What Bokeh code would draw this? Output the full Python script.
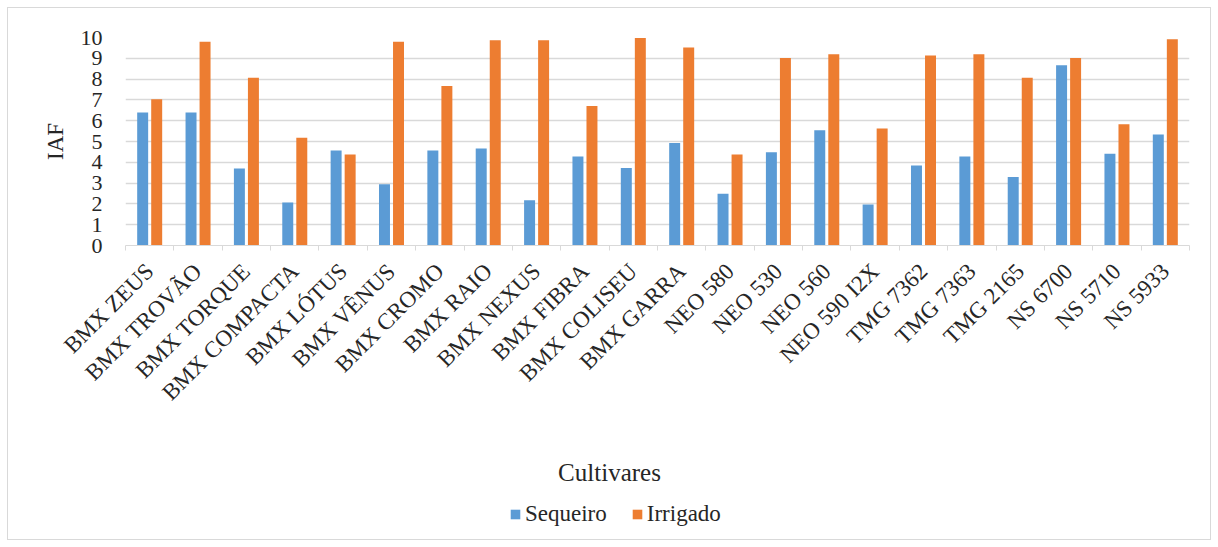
import math
from bokeh.plotting import figure
from bokeh.layouts import column
from bokeh.models import (Range1d, FixedTicker, Legend, LegendItem, Label,
                          ColumnDataSource)
from bokeh.embed import file_html
from bokeh.resources import INLINE

cultivares = ["BMX ZEUS", "BMX TROVÃO", "BMX TORQUE", "BMX COMPACTA", "BMX LÓTUS",
              "BMX VÊNUS", "BMX CROMO", "BMX RAIO", "BMX NEXUS", "BMX FIBRA",
              "BMX COLISEU", "BMX GARRA", "NEO 580", "NEO 530", "NEO 560",
              "NEO 590 I2X", "TMG 7362", "TMG 7363", "TMG 2165", "NS 6700",
              "NS 5710", "NS 5933"]
sequeiro = [6.4, 6.4, 3.7, 2.07, 4.57, 2.94, 4.57, 4.66, 2.17, 4.28, 3.72,
            4.93, 2.49, 4.48, 5.54, 1.97, 3.85, 4.28, 3.29, 8.67, 4.41, 5.34]
irrigado = [7.03, 9.8, 8.07, 5.18, 4.37, 9.8, 7.67, 9.87, 9.87, 6.71, 9.98,
            9.52, 4.37, 9.02, 9.2, 5.62, 9.13, 9.2, 8.07, 9.02, 5.83, 9.92]
y_ticks = list(range(0, 11))
series_names = ["Sequeiro", "Irrigado"]

FONT = "Liberation Serif"
TXT = "#262626"
BLUE = "#5B9BD5"
ORANGE = "#ED7D31"

n = len(cultivares)
centers = [i + 0.5 for i in range(n)]
src = ColumnDataSource(dict(
    xs=[c - 0.145 for c in centers],
    xi=[c + 0.145 for c in centers],
    seq=sequeiro, irr=irrigado))

p = figure(width=1202, height=432, output_backend="svg", toolbar_location=None,
           x_range=Range1d(0, n), y_range=Range1d(0, 10),
           min_border_left=117, min_border_right=21, min_border_top=29,
           min_border_bottom=195)
p.outline_line_color = None
p.background_fill_color = "white"
p.border_fill_color = "white"

p.vbar(x="xs", top="seq", width=0.227, source=src, fill_color=BLUE, line_color=None)
p.vbar(x="xi", top="irr", width=0.227, source=src, fill_color=ORANGE, line_color=None)

# x axis
p.xaxis.ticker = FixedTicker(ticks=centers, minor_ticks=list(range(0, n + 1)))
p.xaxis.major_label_overrides = {c: name for c, name in zip(centers, cultivares)}
p.xaxis.major_label_orientation = math.pi / 4
p.xaxis.major_label_text_font = FONT
p.xaxis.major_label_text_font_size = "23px"
p.xaxis.major_label_text_color = TXT
p.xaxis.major_label_standoff = 16
p.xaxis.axis_line_color = "#d9d9d9"
p.xaxis.major_tick_line_color = None
p.xaxis.minor_tick_line_color = "#d9d9d9"
p.xaxis.minor_tick_out = 5
p.xaxis.minor_tick_in = 0

# y axis
p.yaxis.ticker = FixedTicker(ticks=y_ticks)
p.yaxis.axis_line_color = None
p.yaxis.major_tick_line_color = None
p.yaxis.minor_tick_line_color = None
p.yaxis.major_label_text_font = FONT
p.yaxis.major_label_text_font_size = "22px"
p.yaxis.major_label_text_color = TXT
p.yaxis.major_label_standoff = 17
p.yaxis.axis_label = "IAF"
p.yaxis.axis_label_text_font = FONT
p.yaxis.axis_label_text_font_size = "23px"
p.yaxis.axis_label_text_font_style = "normal"
p.yaxis.axis_label_text_color = TXT
p.yaxis.axis_label_standoff = 10

p.xgrid.grid_line_color = None
p.ygrid.grid_line_color = "#d9d9d9"
p.ygrid.grid_line_width = 1.5

# lower strip: axis title and legend (its frame is aligned with the chart's frame)
p2 = figure(width=1202, height=99, output_backend="svg", toolbar_location=None,
            x_range=Range1d(0, 1), y_range=Range1d(0, 1),
            min_border_left=117, min_border_right=21,
            min_border_top=0, min_border_bottom=0)
p2.axis.visible = False
p2.grid.visible = False
p2.outline_line_color = None
p2.border_fill_color = "white"
dummy = ColumnDataSource(dict(x=[-10], top=[-10]))
g1 = p2.vbar(x="x", top="top", width=0.1, source=dummy, fill_color=BLUE, line_color=None)
g2 = p2.vbar(x="x", top="top", width=0.1, source=dummy, fill_color=ORANGE, line_color=None)

p2.add_layout(Label(x=484, y=67, x_units="screen", y_units="screen",
                    text="Cultivares", text_align="center", text_baseline="middle",
                    text_font=FONT, text_font_size="25px", text_color=TXT))

legend = Legend(items=[LegendItem(label=series_names[0], renderers=[g1]),
                       LegendItem(label=series_names[1], renderers=[g2])],
                orientation="horizontal", location=(384, 12),
                border_line_color=None, background_fill_alpha=0,
                label_text_font=FONT, label_text_font_size="23px",
                label_text_color=TXT, glyph_width=12, glyph_height=12,
                label_standoff=4, spacing=24, padding=0, margin=0)
p2.add_layout(legend, "center")

layout = column(p, p2, spacing=0)
layout.margin = (7, 7, 7, 7)
layout.styles = {"border": "1px solid #d9d9d9"}

open("out.html", "w").write(file_html(layout, INLINE))
